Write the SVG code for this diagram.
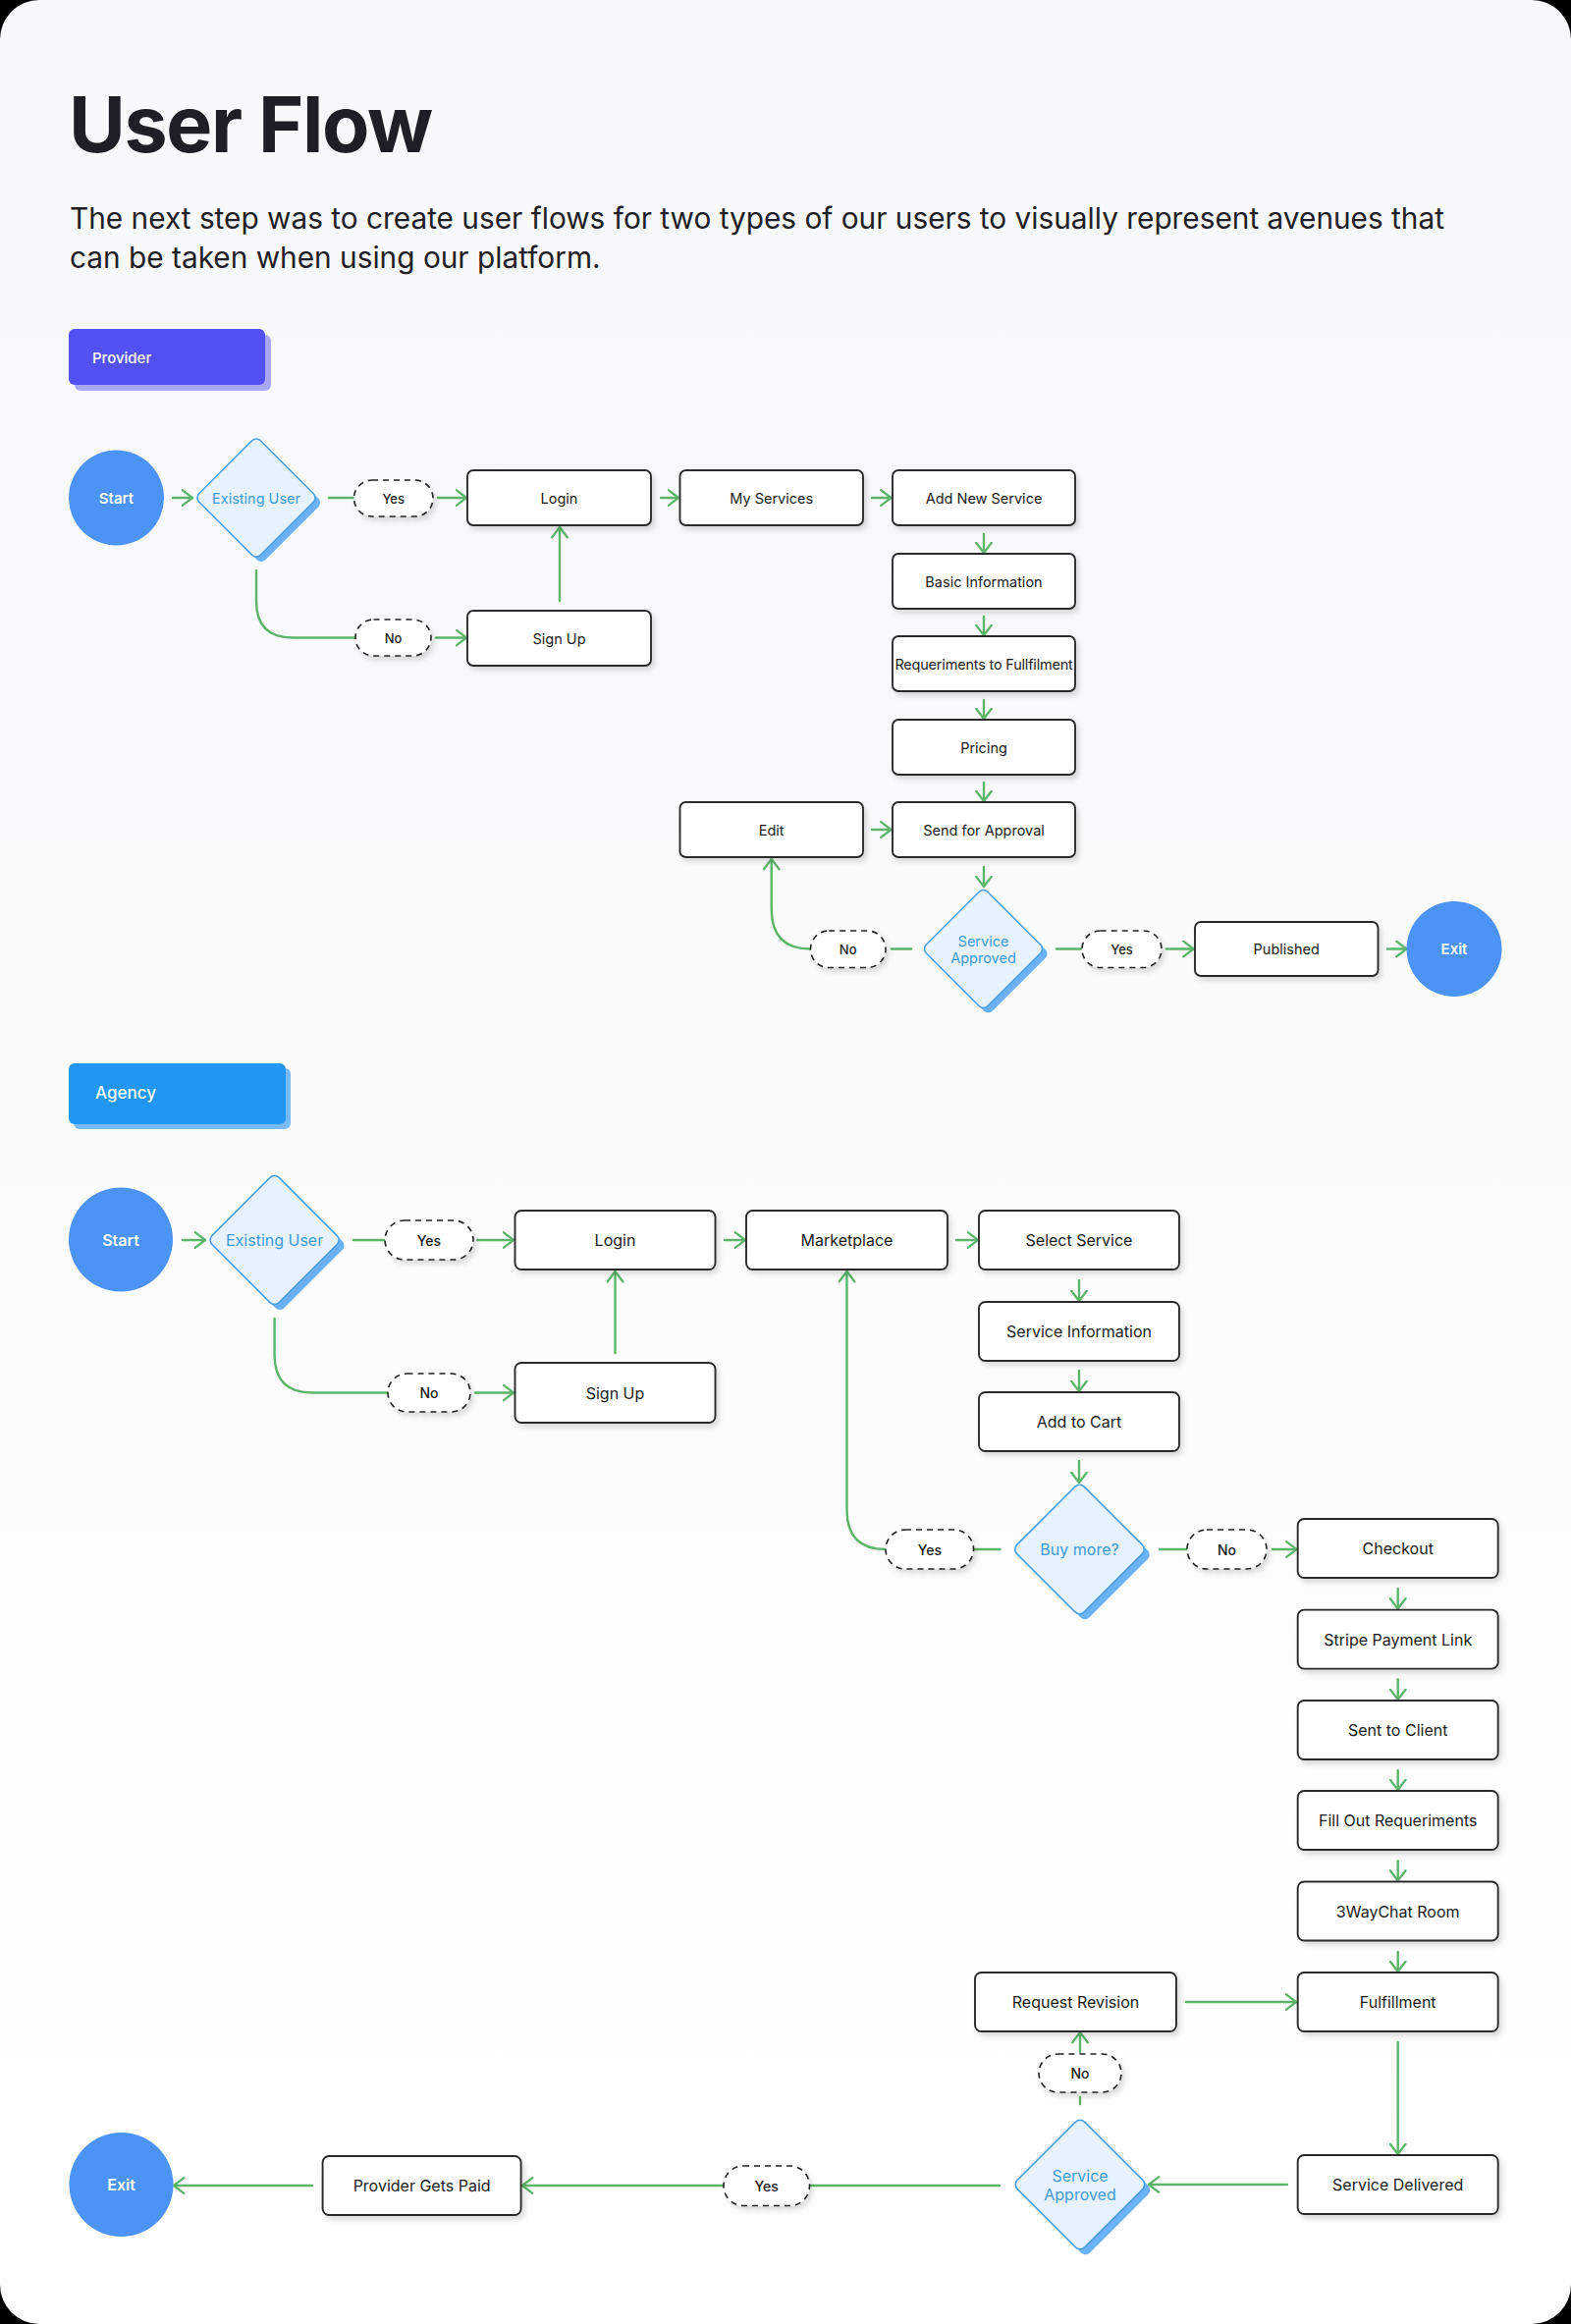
<svg xmlns="http://www.w3.org/2000/svg" width="1600" height="2367" viewBox="0 0 1600 2367">
<defs>
<linearGradient id="bg" x1="0" y1="0" x2="0" y2="1">
<stop offset="0" stop-color="#f7f8fa"/>
<stop offset="0.3" stop-color="#f8f9fa"/>
<stop offset="0.55" stop-color="#fcfcfc"/>
<stop offset="1" stop-color="#fefefe"/>
</linearGradient>
<filter id="sh" x="-10%" y="-20%" width="130%" height="160%">
<feDropShadow dx="3" dy="4" stdDeviation="2.5" flood-color="#000" flood-opacity="0.13"/>
</filter>
<marker id="ar" viewBox="0 0 13 18" markerWidth="13" markerHeight="18" refX="11.5" refY="9" orient="auto" markerUnits="userSpaceOnUse">
<path d="M1.2,1.2 L11.5,9 L1.2,16.8" fill="none" stroke="#5cb56a" stroke-width="2.3" stroke-linecap="round" stroke-linejoin="round"/>
</marker>
<style>
text{font-family:Inter,"Noto Sans","Liberation Sans",sans-serif}
.box{fill:#fff;stroke:#2b2b2b;stroke-width:1.9;filter:url(#sh)}
.pill{fill:#fff;stroke:#222;stroke-width:1.6;stroke-dasharray:6 5;filter:url(#sh)}
.dia{fill:#e6f2fd;stroke:#4a9fe0;stroke-width:1.6}
.dsh{fill:#6ab2f5}
.circ{fill:#4b94f6}
.lbl{fill:#1b1b1b;font-size:14.5px;text-anchor:middle;dominant-baseline:central}
.lbl2{fill:#1b1b1b;font-size:16px;text-anchor:middle;dominant-baseline:central}
.pl{fill:#1b1b1b;font-size:13px;font-weight:500;text-anchor:middle;dominant-baseline:central}
.pl2{fill:#1b1b1b;font-size:14px;font-weight:500;text-anchor:middle;dominant-baseline:central}
.dl{fill:#3f9bd8;font-size:14.5px;text-anchor:middle;dominant-baseline:central}
.dl2{fill:#3f9bd8;font-size:16px;text-anchor:middle;dominant-baseline:central}
.cl{fill:#fff;font-size:15px;font-weight:600;text-anchor:middle;dominant-baseline:central}
.cl2{fill:#fff;font-size:16px;font-weight:600;text-anchor:middle;dominant-baseline:central}
.con path{fill:none;stroke:#5cb56a;stroke-width:2.4;stroke-linecap:round}
.arr{marker-end:url(#ar)}
</style>
</defs>
<rect x="0" y="0" width="1600" height="2367" fill="#000"/>
<rect x="0" y="0" width="1600" height="2367" rx="40" ry="40" fill="url(#bg)"/>

<g id="header">
<text x="70" y="155" font-size="79" font-weight="700" letter-spacing="-1.4" fill="#1d1e26">User Flow</text>
<text x="71" y="233" font-size="29.8" fill="#1f2026">The next step was to create user flows for two types of our users to visually represent avenues that</text>
<text x="71" y="273" font-size="29.8" fill="#1f2026">can be taken when using our platform.</text>
</g>

<g id="badge-provider">
<rect x="76" y="341" width="200" height="57" rx="6" fill="#a9a6f6"/>
<rect x="70" y="335" width="200" height="57" rx="6" fill="#5451f4"/>
<text x="94" y="364" font-size="15" font-weight="500" fill="#fff" dominant-baseline="central">Provider</text>
</g>
<g id="badge-agency">
<rect x="75" y="1088" width="221" height="62" rx="6" fill="#76baf6"/>
<rect x="70" y="1083" width="221" height="62" rx="6" fill="#2196f3"/>
<text x="97" y="1113" font-size="17" font-weight="500" fill="#fff" dominant-baseline="central">Agency</text>
</g>

<g id="connectors" class="con">
<!-- provider -->
<path class="arr" d="M176,507 H196"/>
<path d="M335,507 H360"/>
<path class="arr" d="M446,507 H475"/>
<path d="M261,581 V612 Q261,649.5 298,649.5 H362"/>
<path class="arr" d="M444,649.5 H475"/>
<path class="arr" d="M570,612 V537"/>
<path class="arr" d="M673,507 H691"/>
<path class="arr" d="M888,507 H907.5"/>
<path class="arr" d="M1002,544 V563"/>
<path class="arr" d="M1002,628 V647"/>
<path class="arr" d="M1002,713 V732"/>
<path class="arr" d="M1002,797 V816"/>
<path class="arr" d="M888,845 H907.5"/>
<path class="arr" d="M1002,883 V903"/>
<path d="M928,966.5 H908"/>
<path class="arr" d="M825.5,966.5 Q785.7,966.5 785.7,926 V875"/>
<path d="M1076,966.5 H1102"/>
<path class="arr" d="M1188,966.5 H1215.5"/>
<path class="arr" d="M1413,966.5 H1432.5"/>
<!-- agency -->
<path class="arr" d="M186,1263 H209"/>
<path d="M360,1263 H392"/>
<path class="arr" d="M486,1263 H523"/>
<path d="M279.6,1343 V1380 Q279.6,1418.5 318,1418.5 H395"/>
<path class="arr" d="M484,1418.5 H523"/>
<path class="arr" d="M626.5,1378 V1295"/>
<path class="arr" d="M738,1263 H759"/>
<path class="arr" d="M974,1263 H996"/>
<path class="arr" d="M1099,1304 V1325"/>
<path class="arr" d="M1099,1396 V1417"/>
<path class="arr" d="M1099,1488 V1510"/>
<path d="M1018.6,1578 H991.5"/>
<path class="arr" d="M902,1578 Q862.5,1578 862.5,1538 V1295"/>
<path d="M1181,1578 H1209"/>
<path class="arr" d="M1296,1578 H1320.5"/>
<path class="arr" d="M1423.7,1618 V1638.5"/>
<path class="arr" d="M1423.7,1710.5 V1731"/>
<path class="arr" d="M1423.7,1803 V1823"/>
<path class="arr" d="M1423.7,1895.5 V1915.5"/>
<path class="arr" d="M1423.7,1988 V2008"/>
<path class="arr" d="M1208,2039 H1320"/>
<path class="arr" d="M1423.7,2080 V2194"/>
<path class="arr" d="M1311,2225 H1170"/>
<path d="M1100,2143 V2136"/>
<path class="arr" d="M1100,2090 V2070"/>
<path d="M1018,2226 H824.5"/>
<path class="arr" d="M737,2226 H532"/>
<path class="arr" d="M318,2226 H177"/>
</g>

<!-- provider nodes -->
<g id="p-start"><circle class="circ" cx="118.5" cy="507" r="48.5"/><text class="cl" x="118.5" y="507">Start</text></g>
<g id="p-existing">
<rect class="dsh" x="-44.2" y="-44.2" width="88.4" height="88.4" rx="6" transform="translate(266,512) rotate(45)"/>
<rect class="dia" x="-44.2" y="-44.2" width="88.4" height="88.4" rx="6" transform="translate(261,507) rotate(45)"/>
<text class="dl" x="261" y="507">Existing User</text></g>
<g id="p-yes1"><rect class="pill" x="360.5" y="489" width="80.5" height="37" rx="18.5"/><text class="pl" x="400.7" y="507.5">Yes</text></g>
<g id="p-no1"><rect class="pill" x="362" y="631" width="77" height="37" rx="18.5"/><text class="pl" x="400.5" y="649.5">No</text></g>
<g id="p-login"><rect class="box" x="476" y="479" width="187" height="56" rx="6"/><text class="lbl" x="569.5" y="507">Login</text></g>
<g id="p-signup"><rect class="box" x="476" y="622" width="187" height="56" rx="6"/><text class="lbl" x="569.5" y="650">Sign Up</text></g>
<g id="p-myservices"><rect class="box" x="692.5" y="479" width="186.5" height="56" rx="6"/><text class="lbl" x="785.7" y="507">My Services</text></g>
<g id="p-addnew"><rect class="box" x="909" y="479" width="186" height="56" rx="6"/><text class="lbl" x="1002" y="507">Add New Service</text></g>
<g id="p-basic"><rect class="box" x="909" y="564" width="186" height="56" rx="6"/><text class="lbl" x="1002" y="592">Basic Information</text></g>
<g id="p-req"><rect class="box" x="909" y="648" width="186" height="56" rx="6"/><text class="lbl" x="1002" y="676" font-size="14" letter-spacing="-0.2">Requeriments to Fullfilment</text></g>
<g id="p-pricing"><rect class="box" x="909" y="733" width="186" height="56" rx="6"/><text class="lbl" x="1002" y="761">Pricing</text></g>
<g id="p-send"><rect class="box" x="909" y="817" width="186" height="56" rx="6"/><text class="lbl" x="1002" y="845">Send for Approval</text></g>
<g id="p-edit"><rect class="box" x="692.5" y="817" width="186.5" height="56" rx="6"/><text class="lbl" x="785.7" y="845">Edit</text></g>
<g id="p-approved">
<rect class="dsh" x="-44.2" y="-44.2" width="88.4" height="88.4" rx="6" transform="translate(1006.5,971.5) rotate(45)"/>
<rect class="dia" x="-44.2" y="-44.2" width="88.4" height="88.4" rx="6" transform="translate(1001.5,966.5) rotate(45)"/>
<text class="dl" x="1001.5" y="958">Service</text><text class="dl" x="1001.5" y="975">Approved</text></g>
<g id="p-no2"><rect class="pill" x="825.5" y="948" width="76.5" height="37.5" rx="18.7"/><text class="pl" x="863.7" y="966.7">No</text></g>
<g id="p-yes2"><rect class="pill" x="1102" y="948" width="81" height="37.5" rx="18.7"/><text class="pl" x="1142.5" y="966.7">Yes</text></g>
<g id="p-published"><rect class="box" x="1217" y="939" width="186.5" height="55" rx="6"/><text class="lbl" x="1310.2" y="966.5">Published</text></g>
<g id="p-exit"><circle class="circ" cx="1481" cy="966.5" r="48.5"/><text class="cl" x="1481" y="966.5">Exit</text></g>

<!-- agency nodes -->
<g id="a-start"><circle class="circ" cx="123" cy="1262.5" r="53"/><text class="cl2" x="123" y="1262.5">Start</text></g>
<g id="a-existing">
<rect class="dsh" x="-48.2" y="-48.2" width="96.4" height="96.4" rx="6.5" transform="translate(285,1268.5) rotate(45)"/>
<rect class="dia" x="-48.2" y="-48.2" width="96.4" height="96.4" rx="6.5" transform="translate(279.6,1263) rotate(45)"/>
<text class="dl2" x="279.6" y="1263">Existing User</text></g>
<g id="a-yes1"><rect class="pill" x="392" y="1243" width="90" height="40" rx="20"/><text class="pl2" x="437" y="1263">Yes</text></g>
<g id="a-no1"><rect class="pill" x="395" y="1399" width="84" height="39" rx="19.5"/><text class="pl2" x="437" y="1418.5">No</text></g>
<g id="a-login"><rect class="box" x="524.5" y="1233" width="204" height="60" rx="6.5"/><text class="lbl2" x="626.5" y="1263">Login</text></g>
<g id="a-signup"><rect class="box" x="524.5" y="1388" width="204" height="61" rx="6.5"/><text class="lbl2" x="626.5" y="1418.5">Sign Up</text></g>
<g id="a-marketplace"><rect class="box" x="760" y="1233" width="205" height="60" rx="6.5"/><text class="lbl2" x="862.5" y="1263">Marketplace</text></g>
<g id="a-select"><rect class="box" x="997" y="1233" width="204" height="60" rx="6.5"/><text class="lbl2" x="1099" y="1263">Select Service</text></g>
<g id="a-info"><rect class="box" x="997" y="1326" width="204" height="60" rx="6.5"/><text class="lbl2" x="1099" y="1356">Service Information</text></g>
<g id="a-cart"><rect class="box" x="997" y="1418" width="204" height="60" rx="6.5"/><text class="lbl2" x="1099" y="1448">Add to Cart</text></g>
<g id="a-buymore">
<rect class="dsh" x="-48.4" y="-48.4" width="96.8" height="96.8" rx="6.5" transform="translate(1105,1583.5) rotate(45)"/>
<rect class="dia" x="-48.4" y="-48.4" width="96.8" height="96.8" rx="6.5" transform="translate(1099.5,1578) rotate(45)"/>
<text class="dl2" x="1099.5" y="1578">Buy more?</text></g>
<g id="a-yes2"><rect class="pill" x="902" y="1558" width="89.5" height="40" rx="20"/><text class="pl2" x="946.8" y="1578">Yes</text></g>
<g id="a-no2"><rect class="pill" x="1209" y="1558" width="81" height="40" rx="20"/><text class="pl2" x="1249.5" y="1578">No</text></g>
<g id="a-checkout"><rect class="box" x="1321.7" y="1547" width="204" height="60" rx="6.5"/><text class="lbl2" x="1423.7" y="1577">Checkout</text></g>
<g id="a-stripe"><rect class="box" x="1321.7" y="1639.6" width="204" height="60" rx="6.5"/><text class="lbl2" x="1423.7" y="1669.6">Stripe Payment Link</text></g>
<g id="a-sent"><rect class="box" x="1321.7" y="1732" width="204" height="60" rx="6.5"/><text class="lbl2" x="1423.7" y="1762">Sent to Client</text></g>
<g id="a-fill"><rect class="box" x="1321.7" y="1824" width="204" height="60" rx="6.5"/><text class="lbl2" x="1423.7" y="1854">Fill Out Requeriments</text></g>
<g id="a-chat"><rect class="box" x="1321.7" y="1916.5" width="204" height="60" rx="6.5"/><text class="lbl2" x="1423.7" y="1946.5">3WayChat Room</text></g>
<g id="a-fulfillment"><rect class="box" x="1321.7" y="2009" width="204" height="60" rx="6.5"/><text class="lbl2" x="1423.7" y="2039">Fulfillment</text></g>
<g id="a-revision"><rect class="box" x="993" y="2009" width="205" height="60" rx="6.5"/><text class="lbl2" x="1095.5" y="2039">Request Revision</text></g>
<g id="a-delivered"><rect class="box" x="1321.7" y="2195" width="204" height="60" rx="6.5"/><text class="lbl2" x="1423.7" y="2225">Service Delivered</text></g>
<g id="a-approved">
<rect class="dsh" x="-48.4" y="-48.4" width="96.8" height="96.8" rx="6.5" transform="translate(1105.5,2230.5) rotate(45)"/>
<rect class="dia" x="-48.4" y="-48.4" width="96.8" height="96.8" rx="6.5" transform="translate(1100,2225) rotate(45)"/>
<text class="dl2" x="1100" y="2216">Service</text><text class="dl2" x="1100" y="2235">Approved</text></g>
<g id="a-no3"><rect class="pill" x="1058" y="2092" width="84" height="39" rx="19.5"/><text class="pl2" x="1100" y="2111.5">No</text></g>
<g id="a-yes3"><rect class="pill" x="737" y="2206" width="87.5" height="40.5" rx="20"/><text class="pl2" x="780.7" y="2226">Yes</text></g>
<g id="a-paid"><rect class="box" x="328.6" y="2196" width="202" height="60" rx="6.5"/><text class="lbl2" x="429.6" y="2226">Provider Gets Paid</text></g>
<g id="a-exit"><circle class="circ" cx="123.5" cy="2225" r="53"/><text class="cl2" x="123.5" y="2225">Exit</text></g>
</svg>
